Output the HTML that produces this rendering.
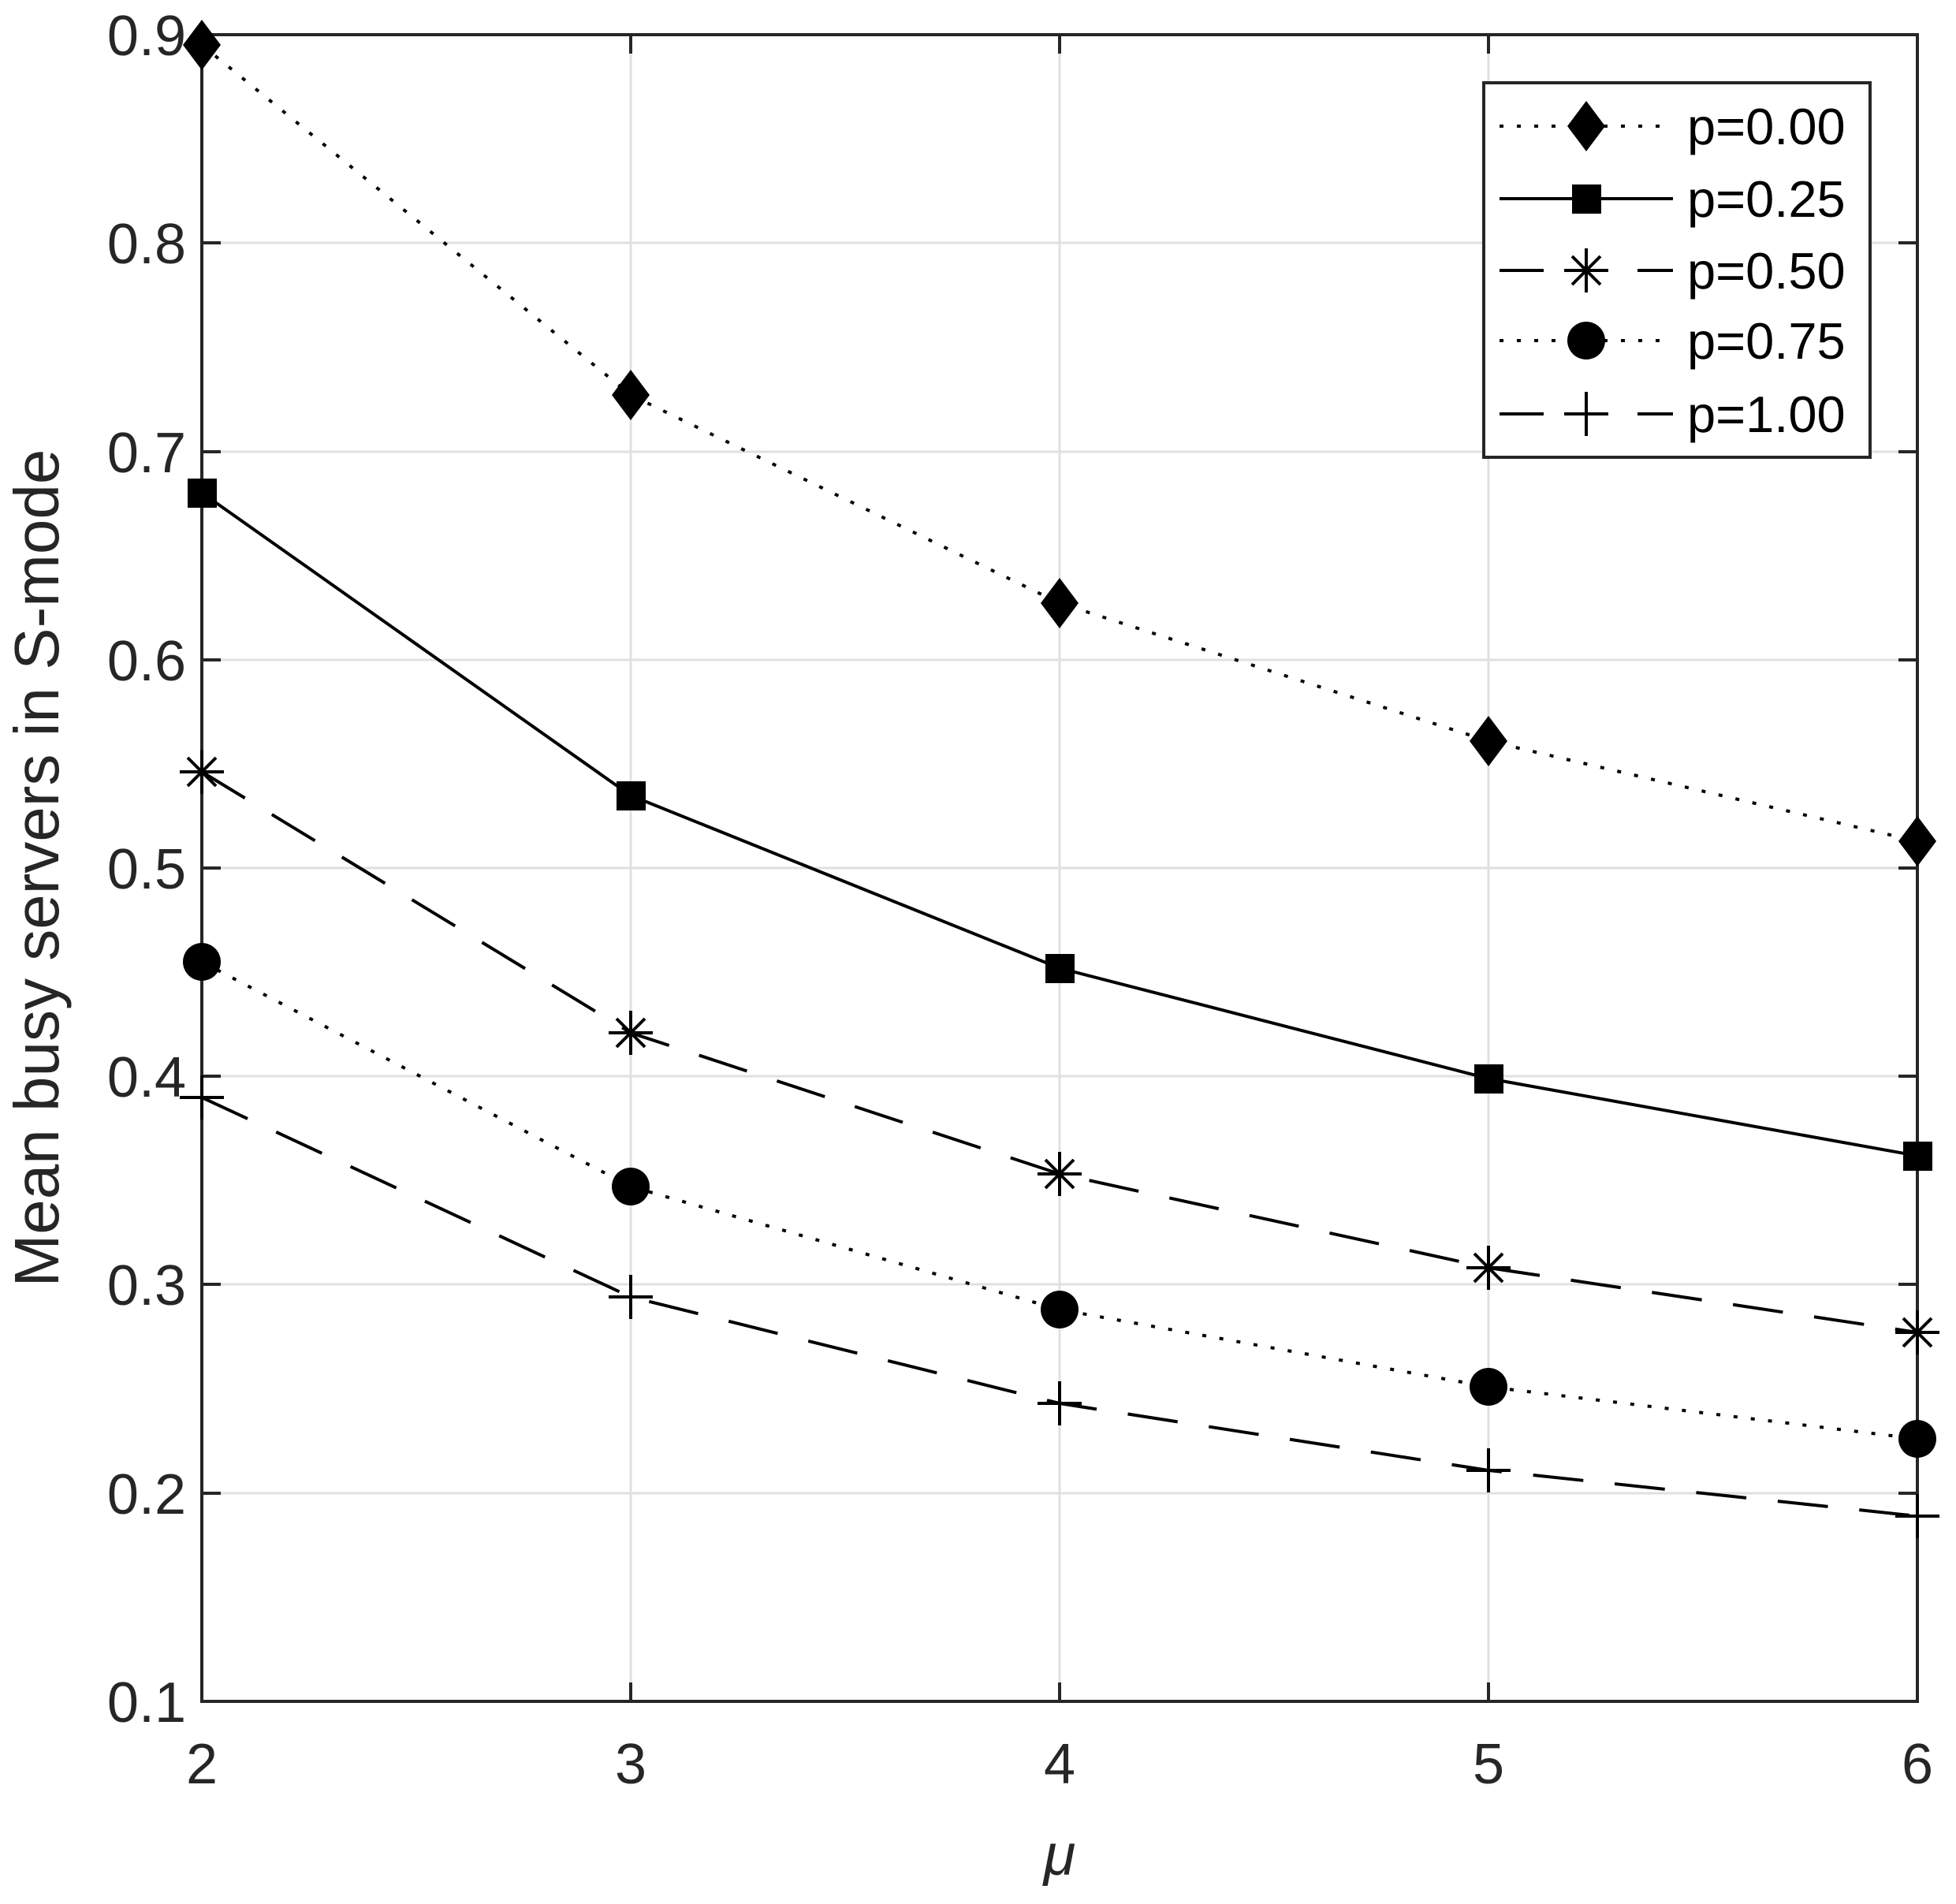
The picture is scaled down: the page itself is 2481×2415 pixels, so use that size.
<!DOCTYPE html>
<html><head><meta charset="utf-8"><style>html,body{margin:0;padding:0;background:#fff}svg{display:block}</style></head><body>
<svg width="2481" height="2415" viewBox="0 0 2481 2415" xmlns="http://www.w3.org/2000/svg" font-family="Liberation Sans, Arial, sans-serif">
<rect width="2481" height="2415" fill="#fff"/>
<g stroke="#e0e0e0" stroke-width="3">
<line x1="800" y1="44" x2="800" y2="2158"/><line x1="1344" y1="44" x2="1344" y2="2158"/><line x1="1888" y1="44" x2="1888" y2="2158"/>
<line x1="256" y1="308" x2="2432" y2="308"/><line x1="256" y1="573" x2="2432" y2="573"/><line x1="256" y1="837" x2="2432" y2="837"/><line x1="256" y1="1101" x2="2432" y2="1101"/><line x1="256" y1="1365" x2="2432" y2="1365"/><line x1="256" y1="1629" x2="2432" y2="1629"/><line x1="256" y1="1894" x2="2432" y2="1894"/>
</g>
<g stroke="#262626" stroke-width="4" fill="none">
<rect x="256" y="44" width="2176" height="2114"/>
<path d="M256 308h24M256 573h24M256 837h24M256 1101h24M256 1365h24M256 1629h24M256 1894h24M2432 308h-24M2432 573h-24M2432 837h-24M2432 1101h-24M2432 1365h-24M2432 1629h-24M2432 1894h-24M800 2158v-24M1344 2158v-24M1888 2158v-24M800 44v24M1344 44v24M1888 44v24"/>
</g>
<g fill="#262626" font-size="72" text-anchor="end">
<text x="236" y="70">0.9</text><text x="236" y="334">0.8</text><text x="236" y="599">0.7</text><text x="236" y="863">0.6</text><text x="236" y="1127">0.5</text><text x="236" y="1391">0.4</text><text x="236" y="1655">0.3</text><text x="236" y="1920">0.2</text><text x="236" y="2184">0.1</text>
</g>
<g fill="#262626" font-size="72" text-anchor="middle">
<text x="256" y="2262">2</text><text x="800" y="2262">3</text><text x="1344" y="2262">4</text><text x="1888" y="2262">5</text><text x="2432" y="2262">6</text>
<text x="1344" y="2378" font-style="italic" font-size="74">μ</text>
<text transform="translate(74,1101) rotate(-90)" font-size="80">Mean busy servers in S-mode</text>
</g>
<g fill="none" stroke="#000" stroke-width="4">
<polyline stroke-dasharray="5 17" points="256,57 800,501 1344,765 1888,940 2432,1067"/>
<polyline points="256,625 800,1009 1344,1228 1888,1368 2432,1466"/>
<polyline stroke-dasharray="64 40" points="256,979 800,1310 1344,1489 1888,1608 2432,1690"/>
<polyline stroke-dasharray="5 17" points="256,1220 800,1505 1344,1661 1888,1759 2432,1825"/>
<polyline stroke-dasharray="64 40" points="256,1392 800,1645 1344,1780 1888,1865 2432,1923"/>
</g>
<g fill="#000">
<path d="M256 25l24 32-24 32-24-32z M800 469l24 32-24 32-24-32z M1344 733l24 32-24 32-24-32z M1888 908l24 32-24 32-24-32z M2432 1035l24 32-24 32-24-32z"/>
<rect x="238" y="607" width="37" height="37"/><rect x="782" y="991" width="37" height="37"/><rect x="1326" y="1210" width="37" height="37"/><rect x="1870" y="1350" width="37" height="37"/><rect x="2414" y="1448" width="37" height="37"/>
<circle cx="256" cy="1220" r="24"/><circle cx="800" cy="1505" r="24"/><circle cx="1344" cy="1661" r="24"/><circle cx="1888" cy="1759" r="24"/><circle cx="2432" cy="1825" r="24"/>
</g>
<defs>
<g id="st"><path d="M-28 0h56M0-28v56M-18-18l36 36M-18 18l36-36" stroke="#000" stroke-width="4"/></g>
<g id="pl"><path d="M-28 0h56M0-28v56" stroke="#000" stroke-width="4"/></g>
</defs>
<use href="#st" x="256" y="979"/><use href="#st" x="800" y="1310"/><use href="#st" x="1344" y="1489"/><use href="#st" x="1888" y="1608"/><use href="#st" x="2432" y="1690"/>
<use href="#pl" x="256" y="1392"/><use href="#pl" x="800" y="1645"/><use href="#pl" x="1344" y="1780"/><use href="#pl" x="1888" y="1865"/><use href="#pl" x="2432" y="1923"/>
<rect x="1882" y="105" width="490" height="475" fill="#fff" stroke="#262626" stroke-width="4"/>
<g fill="none" stroke="#000" stroke-width="4">
<line x1="1902" y1="160" x2="2122" y2="160" stroke-dasharray="5 17"/>
<line x1="1902" y1="252" x2="2122" y2="252"/>
<path d="M1902 343h56M2077 343h45"/>
<line x1="1902" y1="432" x2="2122" y2="432" stroke-dasharray="5 17"/>
<path d="M1902 525h56M2077 525h45"/>
</g>
<path d="M2012 128l24 32-24 32-24-32z" fill="#000"/>
<rect x="1994" y="234" width="37" height="37" fill="#000"/>
<use href="#st" x="2012" y="343"/>
<circle cx="2012" cy="432" r="24" fill="#000"/>
<use href="#pl" x="2012" y="525"/>
<g font-size="65" fill="#000">
<text x="2140" y="183">p=0.00</text><text x="2140" y="275">p=0.25</text><text x="2140" y="366">p=0.50</text><text x="2140" y="455">p=0.75</text><text x="2140" y="548">p=1.00</text>
</g>
</svg>
</body></html>
